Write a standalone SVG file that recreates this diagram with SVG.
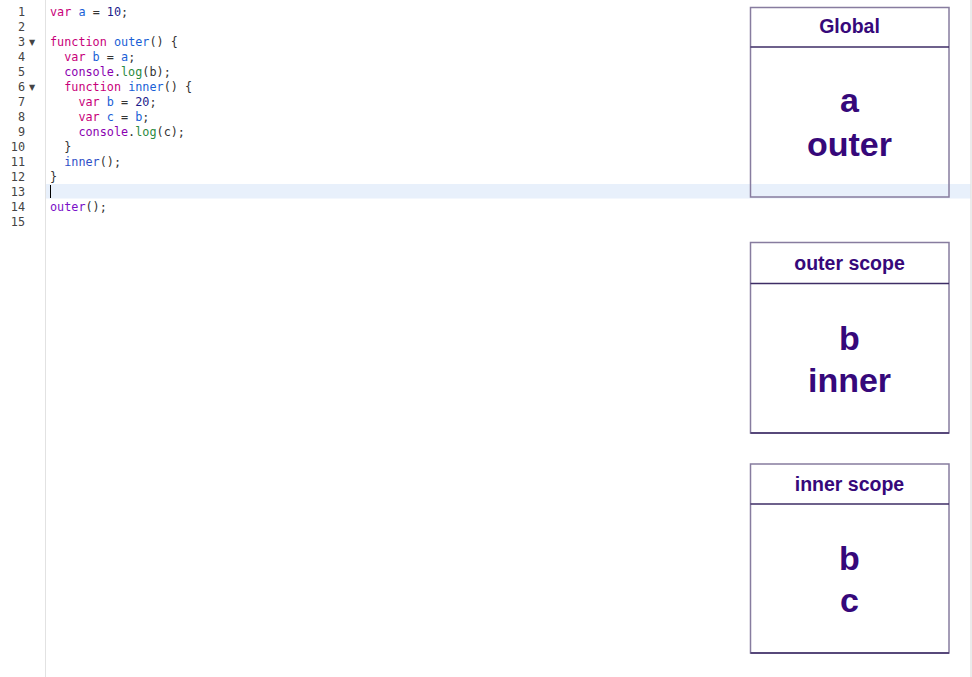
<svg xmlns="http://www.w3.org/2000/svg" width="972" height="677" viewBox="0 0 972 677">
<style>
.code{font-family:"DejaVu Sans Mono","Liberation Mono",monospace;font-size:11.8px;fill:#333;white-space:pre}
.ln{font-family:"DejaVu Sans Mono","Liberation Mono",monospace;font-size:11.8px;fill:#444;text-anchor:end}
.arr{font-family:"DejaVu Sans",sans-serif;font-size:8px;fill:#444}
.k{fill:#c8007a}
.v{fill:#1a5fd6}
.n{fill:#1c1c8c}
.p{fill:#8a00b0}
.g{fill:#2a8a40}
.box{fill:none;stroke:#877c9f;stroke-width:1.5}
.div{stroke:#3e2d66;stroke-width:1.5}
.hd{font-family:"Liberation Sans",Arial,sans-serif;font-weight:bold;font-size:19.5px;fill:#36087a;text-anchor:middle}
.bd{font-family:"Liberation Sans",Arial,sans-serif;font-weight:bold;font-size:34px;fill:#36087a;text-anchor:middle}
</style>
<rect x="0" y="0" width="972" height="677" fill="#fff"/>
<rect x="46" y="184" width="925" height="14.5" fill="#e8f0fb"/>
<line x1="45.5" y1="0" x2="45.5" y2="677" stroke="#e2e2e2" stroke-width="1"/>
<line x1="971" y1="0" x2="971" y2="677" stroke="#e4e4e4" stroke-width="1.5"/>
<g id="gutter">
<text class="ln" x="25" y="16">1</text>
<text class="ln" x="25" y="31">2</text>
<text class="ln" x="25" y="46">3</text>
<text class="ln" x="25" y="61">4</text>
<text class="ln" x="25" y="76">5</text>
<text class="ln" x="25" y="91">6</text>
<text class="ln" x="25" y="106">7</text>
<text class="ln" x="25" y="121">8</text>
<text class="ln" x="25" y="136">9</text>
<text class="ln" x="25" y="151">10</text>
<text class="ln" x="25" y="166">11</text>
<text class="ln" x="25" y="181">12</text>
<text class="ln" x="25" y="196">13</text>
<text class="ln" x="25" y="211">14</text>
<text class="ln" x="25" y="226">15</text>
<text class="arr" x="29" y="45">▼</text>
<text class="arr" x="29" y="90">▼</text>
</g>
<g id="code">
<text class="code" x="50" y="16"><tspan class="k">var</tspan> <tspan class="v">a</tspan> = <tspan class="n">10</tspan>;</text>
<text class="code" x="50" y="46"><tspan class="k">function</tspan> <tspan class="v">outer</tspan>() {</text>
<text class="code" x="64.2" y="61"><tspan class="k">var</tspan> <tspan class="v">b</tspan> = <tspan class="v">a</tspan>;</text>
<text class="code" x="64.2" y="76"><tspan class="p">console</tspan>.<tspan class="g">log</tspan>(b);</text>
<text class="code" x="64.2" y="91"><tspan class="k">function</tspan> <tspan class="v">inner</tspan>() {</text>
<text class="code" x="78.4" y="106"><tspan class="k">var</tspan> <tspan class="v">b</tspan> = <tspan class="n">20</tspan>;</text>
<text class="code" x="78.4" y="121"><tspan class="k">var</tspan> <tspan class="v">c</tspan> = <tspan class="v">b</tspan>;</text>
<text class="code" x="78.4" y="136"><tspan class="p">console</tspan>.<tspan class="g">log</tspan>(c);</text>
<text class="code" x="64.2" y="151">}</text>
<text class="code" x="64.2" y="166"><tspan fill="#3050c8">inner</tspan>();</text>
<text class="code" x="50" y="181">}</text>
<text class="code" x="50" y="211"><tspan fill="#7a10c8">outer</tspan>();</text>
<line x1="50.5" y1="185" x2="50.5" y2="198" stroke="#000" stroke-width="1"/>
</g>
<g id="global">
<rect class="box" x="750.5" y="7.5" width="198.5" height="189.5"/>
<line class="div" x1="750.5" y1="47" x2="949" y2="47"/>
<text class="hd" x="849.5" y="33">Global</text>
<text class="bd" x="849.5" y="112">a</text>
<text class="bd" x="849.5" y="155.5">outer</text>
</g>
<g id="outer-scope">
<rect class="box" x="750.5" y="242.5" width="198.5" height="190.5"/>
<line class="div" x1="750.5" y1="283.5" x2="949" y2="283.5"/>
<line class="div" x1="750.5" y1="433" x2="949" y2="433"/>
<text class="hd" x="849.5" y="269.5">outer scope</text>
<text class="bd" x="849.5" y="350">b</text>
<text class="bd" x="849.5" y="392">inner</text>
</g>
<g id="inner-scope">
<rect class="box" x="750.5" y="464" width="198.5" height="189"/>
<line class="div" x1="750.5" y1="504" x2="949" y2="504"/>
<line class="div" x1="750.5" y1="653" x2="949" y2="653"/>
<text class="hd" x="849.5" y="491">inner scope</text>
<text class="bd" x="849.5" y="570">b</text>
<text class="bd" x="849.5" y="611.5">c</text>
</g>
<g id="connectors"></g>
</svg>
